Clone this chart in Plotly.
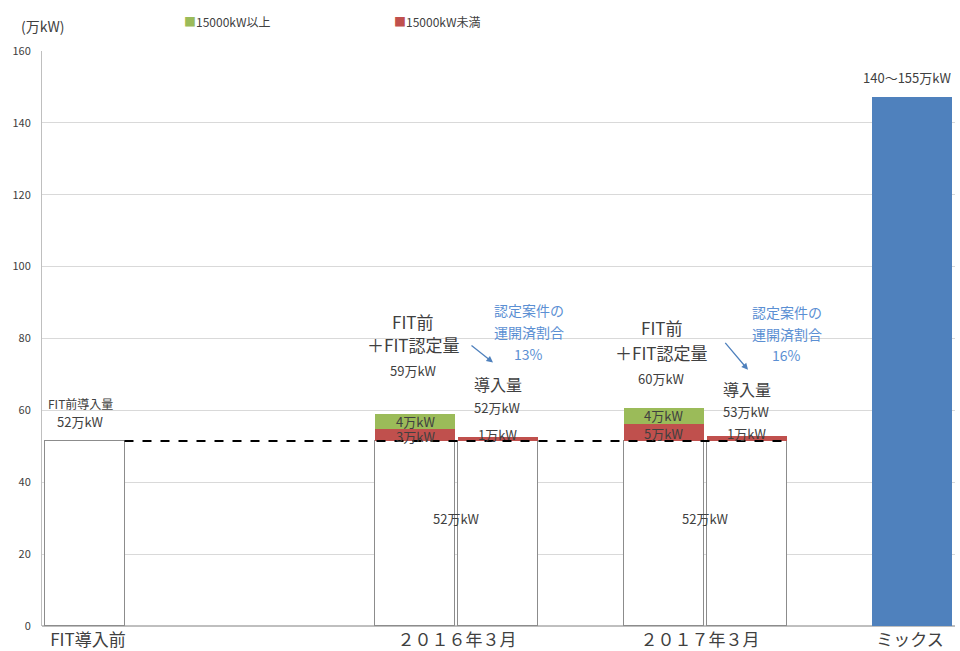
import plotly.graph_objects as go

# ---------------- data ----------------
bar_names = ["FIT導入前", "2016 FIT前+認定", "2016 導入量", "2017 FIT前+認定", "2017 導入量", "ミックス"]
base_values = [51.5, 51.5, 51.5, 51.5, 51.5, 0]        # FIT前導入量 (white)
under_15000 = [0, 3.3, 1.1, 4.7, 1.4, 0]              # 15000kW未満 (red)
over_15000 = [0, 4.2, 0, 4.5, 0, 0]                   # 15000kW以上 (green)
mix_values = [0, 0, 0, 0, 0, 147.2]                   # ミックス (blue)

total_labels = ["52万kW", "59万kW", "52万kW", "60万kW", "53万kW", "140～155万kW"]
under_labels = ["", "3万kW", "1万kW", "5万kW", "1万kW", ""]
over_labels = ["", "4万kW", "", "4万kW", "", ""]
base_label = "52万kW"
ratio_labels = ["13%", "16%"]

tick_labels = ["FIT導入前", "２０１６年３月", "２０１７年３月", "ミックス"]
y_ticks = [0, 20, 40, 60, 80, 100, 120, 140, 160]

# ---------------- layout constants ----------------
bar_pos = [42.5, 373, 455.5, 621.5, 704.5, 870]
bar_w = 80
tick_pos = [46, 415, 658, 868]
FONT = "Noto Sans CJK JP"
TXT = "#404040"
BLUE_TXT = "#5B8FD3"

fig = go.Figure()
fig.add_trace(go.Bar(x=bar_pos, y=base_values, width=bar_w, marker=dict(color="white", line=dict(color="#8c8c8c", width=1)),
                     showlegend=False, hoverinfo="skip"))
fig.add_trace(go.Bar(x=bar_pos, y=under_15000, width=bar_w, marker=dict(color="#C0504D", line=dict(width=0)),
                     name="15000kW未満", showlegend=False))
fig.add_trace(go.Bar(x=bar_pos, y=over_15000, width=bar_w, marker=dict(color="#9BBB59", line=dict(width=0)),
                     name="15000kW以上", showlegend=False))
fig.add_trace(go.Bar(x=bar_pos, y=mix_values, width=bar_w, marker=dict(color="#4F81BD", line=dict(width=0)),
                     showlegend=False))

# dashed line at FIT-before level
fig.add_trace(go.Scatter(x=[bar_pos[0] + bar_w / 2, bar_pos[4] + bar_w / 2 + 4], y=[base_values[0]] * 2,
                         mode="lines", line=dict(color="black", width=2, dash="dash"), showlegend=False))

ann = []
def T(x, y, text, size=13, color=TXT, **kw):
    ann.append(dict(x=x, y=y, text=text, showarrow=False, xref="x", yref="y",
                    font=dict(family=FONT, size=size, color=color), **kw))

# FIT導入前
T(bar_pos[0] - 4, 62.0, "FIT前導入量", 12)
T(bar_pos[0] - 4, 56.8, total_labels[0], 13)

for k, (i_a, i_b) in enumerate([(1, 2), (3, 4)]):
    xa, xb = bar_pos[i_a], bar_pos[i_b]
    if k == 0:
        ys = [84.6, 78.2, 71.2, 67.3, 60.9]
    else:
        ys = [83.2, 76.0, 69.0, 65.9, 59.8]
    T(xa - 2, ys[0], "FIT前", 17)
    T(xa - 2, ys[1], "＋FIT認定量", 17)
    T(xa - 2, ys[2], total_labels[i_a], 13)
    T(xb, ys[3], "導入量", 16)
    T(xb, ys[4], total_labels[i_b], 13)
    # segment labels
    T(xa, base_values[i_a] + under_15000[i_a] + over_15000[i_a] / 2, over_labels[i_a], 13)
    T(xa, base_values[i_a] + under_15000[i_a] / 2 - 0.4, under_labels[i_a], 13)
    T(xb, base_values[i_b] + under_15000[i_b] + 0.7, under_labels[i_b], 13)
    T((xa + xb) / 2, 29.8, base_label, 13)
    # blue annotation
    bx = xb + 31 if k == 0 else xb + 40
    by = 87.9 if k == 0 else 87.4
    T(bx, by, "認定案件の", 14, BLUE_TXT)
    T(bx, by - 6.2, "運開済割合", 14, BLUE_TXT)
    T(bx, by - 12.2 if k == 0 else by - 12.0, ratio_labels[k], 14, BLUE_TXT)
    # arrow
    if k == 0:
        ax0, ay0, ax1, ay1 = 428, 78.4, 451, 73.3
    else:
        ax0, ay0, ax1, ay1 = 682, 79.2, 706, 71.3
    ann.append(dict(x=ax1, y=ay1, ax=ax0, ay=ay0, xref="x", yref="y", axref="x", ayref="y",
                    showarrow=True, arrowhead=2, arrowsize=1, arrowwidth=1.3, arrowcolor="#4F81BD", text=""))

T(bar_pos[5] - 5, 152.5, total_labels[5], 13)

# unit and legend
ann.append(dict(xref="paper", yref="paper", x=-0.025, y=1.0, yanchor="bottom", xanchor="left", yshift=13,
                showarrow=False, text="(万kW)", font=dict(family=FONT, size=14, color=TXT)))
ann.append(dict(xref="paper", yref="paper", x=0.153, y=1.0, yanchor="bottom", xanchor="left", yshift=19,
                showarrow=False, text="<span style='color:#9BBB59'>■</span>15000kW以上",
                font=dict(family=FONT, size=12, color=TXT)))
ann.append(dict(xref="paper", yref="paper", x=0.383, y=1.0, yanchor="bottom", xanchor="left", yshift=19,
                showarrow=False, text="<span style='color:#C0504D'>■</span>15000kW未満",
                font=dict(family=FONT, size=12, color=TXT)))

fig.update_layout(
    barmode="stack",
    bargap=0,
    width=960, height=651,
    margin=dict(l=42, r=5, t=51, b=25, autoexpand=False),
    plot_bgcolor="white", paper_bgcolor="white",
    font=dict(family=FONT, color=TXT),
    annotations=ann,
    showlegend=False,
    xaxis=dict(range=[0, 913], tickmode="array", tickvals=tick_pos, ticktext=tick_labels,
               tickfont=dict(family=FONT, size=17, color=TXT), showgrid=False, zeroline=False,
               showline=False, ticks="", ticklen=0, automargin=False, ticklabelstandoff=2),
    yaxis=dict(range=[0, 160], tickvals=y_ticks, tickfont=dict(family=FONT, size=11, color=TXT),
               showgrid=True, gridcolor="#d9d9d9", gridwidth=1, zeroline=True, zerolinecolor="#bfbfbf",
               showline=True, linecolor="#bfbfbf", linewidth=1, ticks="", ticklabelstandoff=8,
               automargin=False),
)

fig.write_html("out.html", config={"displayModeBar": False},
               post_script="document.body.style.margin='0';document.body.style.overflow='hidden';")
